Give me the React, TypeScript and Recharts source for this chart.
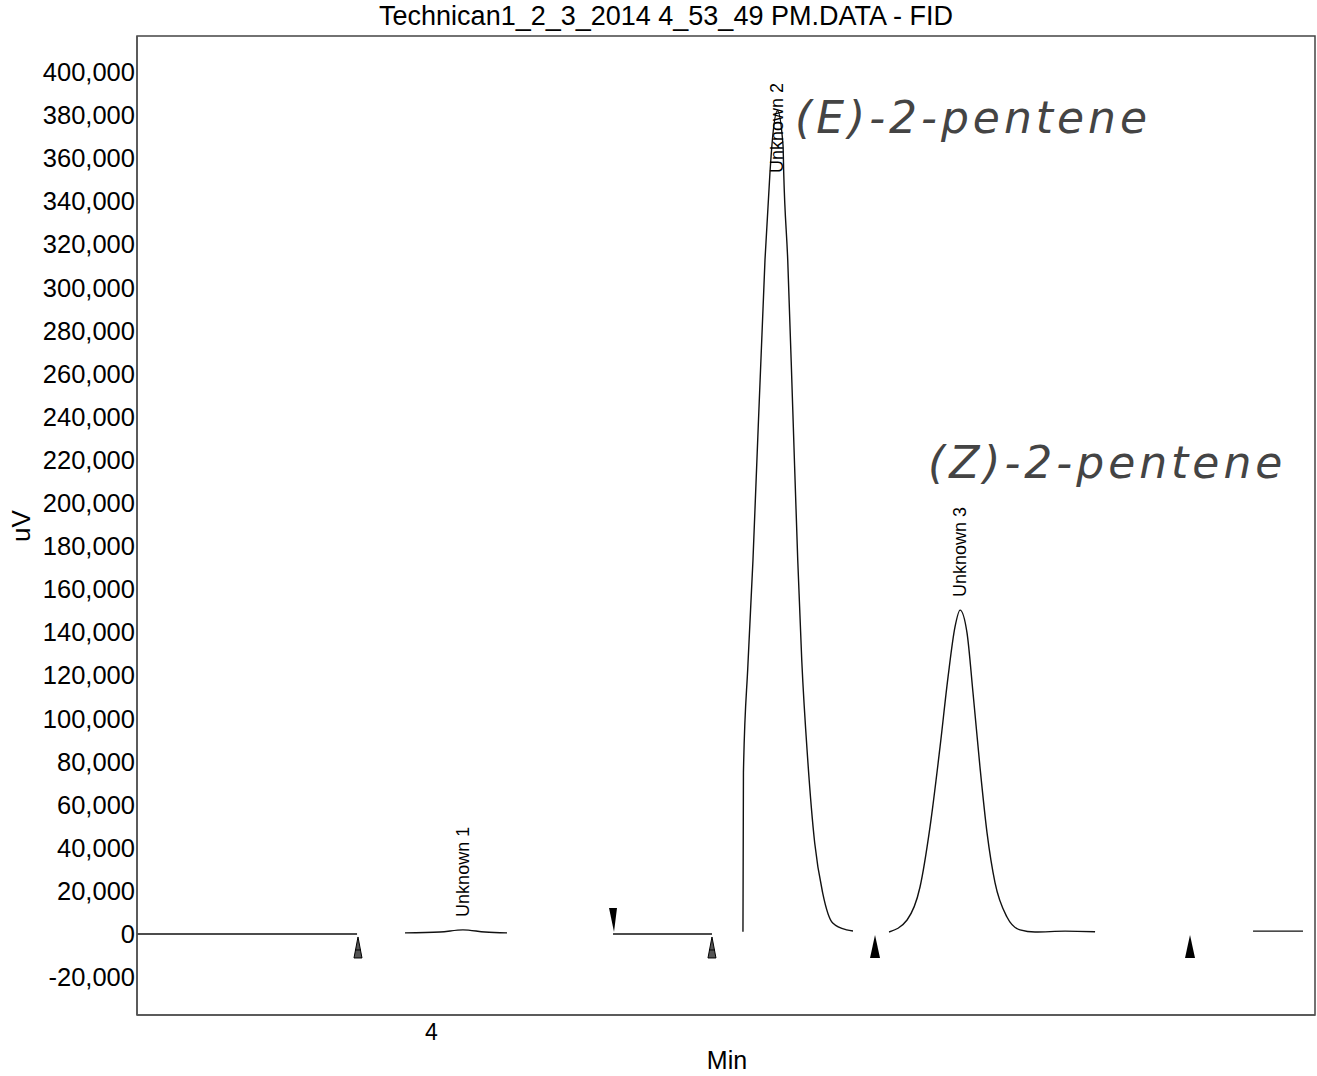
import React from 'react';
import { LineChart, Line, XAxis, YAxis, Scatter, ReferenceArea } from 'recharts';

// Retention time (min) and detector signal (uV) for each drawn trace segment
const baselineATime = [3.75, 3.9368];
const baselineASignal = [0, 0];

const unknown1Time = [3.9775, 4.0072, 4.0267, 4.0454, 4.0641];
const unknown1Signal = [500, 900, 1900, 900, 500];

const baselineBTime = [4.1541, 4.2381];
const baselineBSignal = [0, 0];

const unknown2Time = [4.2644, 4.2648, 4.2686, 4.2729, 4.2831, 4.2873, 4.289, 4.2937, 4.2984, 4.299, 4.3024, 4.3067, 4.3109, 4.3143, 4.3194, 4.3253, 4.3321, 4.3406, 4.3525, 4.3578];
const unknown2Signal = [1000, 75000, 124800, 173500, 312800, 353100, 366100, 382000, 366100, 353100, 312800, 243000, 173500, 127100, 80700, 42200, 19000, 5100, 1900, 1400];

const unknown3Time = [4.3884, 4.4037, 4.4147, 4.4232, 4.4317, 4.4385, 4.4444, 4.4487, 4.4546, 4.4597, 4.4656, 4.4716, 4.4784, 4.4885, 4.4996, 4.5123, 4.5378, 4.5633];
const unknown3Signal = [900, 6500, 21800, 49700, 86800, 119300, 142500, 150300, 139700, 111800, 77500, 46900, 23700, 7900, 1900, 900, 1300, 1000];

const baselineCTime = [4.6974, 4.7398];
const baselineCSignal = [1300, 1300];

// Peak labels
const peakNames = ['Unknown 1', 'Unknown 2', 'Unknown 3'];
const peakTimes = [4.0267, 4.2937, 4.4487];
const peakSignals = [1900, 382000, 150300];

// Integration event markers
const hatchedMarkerTimes = [3.9376, 4.2381];
const solidMarkerTimes = [4.3765, 4.6439];
const downMarkerTimes = [4.1541];

// Axis
const xTicks = [4];
const yTicks = [-20000, 0, 20000, 40000, 60000, 80000, 100000, 120000, 140000, 160000, 180000, 200000, 220000, 240000, 260000, 280000, 300000, 320000, 340000, 360000, 380000, 400000];
const xDomain = [3.75, 4.75];
const yDomain = [-37600, 416700];

const title = 'Technican1_2_3_2014 4_53_49 PM.DATA - FID';
const noteE = '(E)-2-pentene';
const noteZ = '(Z)-2-pentene';

const zip = (t: number[], v: number[]) => t.map((x, i) => ({ t: x, uV: v[i] }));

const segments = [
  zip(baselineATime, baselineASignal),
  zip(unknown1Time, unknown1Signal),
  zip(baselineBTime, baselineBSignal),
  zip(unknown2Time, unknown2Signal),
  zip(unknown3Time, unknown3Signal),
  zip(baselineCTime, baselineCSignal),
];

const peakData = peakTimes.map((t, i) => ({ t, uV: peakSignals[i], name: peakNames[i] }));
const hatchedData = hatchedMarkerTimes.map((t) => ({ t, uV: 0 }));
const solidData = solidMarkerTimes.map((t) => ({ t, uV: 0 }));
const downData = downMarkerTimes.map((t) => ({ t, uV: 0 }));

const FONT = "'Liberation Sans', Arial, sans-serif";
const HAND = "'DejaVu Sans', sans-serif";

const PeakLabel = (props: any) => {
  const { cx, cy, payload } = props;
  const len = 90;
  let bottom = cy - 13;
  if (bottom - len < 83) bottom = 83 + len;
  return (
    <text
      x={cx}
      y={bottom}
      transform={`rotate(-90 ${cx} ${bottom})`}
      fontSize={18}
      fontFamily={FONT}
      textAnchor="start"
      dominantBaseline="central"
      fill="#000"
    >
      {payload.name}
    </text>
  );
};

const UpSolid = (props: any) => {
  const { cx, cy } = props;
  return <polygon points={`${cx},${cy + 1} ${cx - 5},${cy + 24} ${cx + 5},${cy + 24}`} fill="#000" />;
};

const UpHatched = (props: any) => {
  const { cx, cy } = props;
  return (
    <g>
      <polygon points={`${cx},${cy + 3} ${cx - 4},${cy + 24} ${cx + 4},${cy + 24}`} fill="#555" stroke="#000" strokeWidth={1} />
      <line x1={cx - 3} y1={cy + 16} x2={cx + 3} y2={cy + 16} stroke="#000" strokeWidth={1} />
    </g>
  );
};

const DownSolid = (props: any) => {
  const { cx, cy } = props;
  return <polygon points={`${cx - 4},${cy - 26} ${cx + 4},${cy - 26} ${cx + 1},${cy - 2}`} fill="#000" />;
};

const YLabel = () => (
  <text
    x={21}
    y={526}
    transform="rotate(-90 21 526)"
    textAnchor="middle"
    dominantBaseline="central"
    fontSize={26}
    fontFamily={FONT}
    fill="#000"
  >
    uV
  </text>
);

const XLabel = () => (
  <text x={727} y={1069} textAnchor="middle" fontSize={25} fontFamily={FONT} fill="#000">
    Min
  </text>
);

const handStyle: React.CSSProperties = {
  position: 'absolute',
  fontFamily: HAND,
  fontStyle: 'italic',
  fontWeight: 200,
  fontSize: 44,
  lineHeight: '44px',
  color: '#444',
  whiteSpace: 'nowrap',
};

export default function App() {
  return (
    <div style={{ position: 'absolute', left: 0, top: 0, width: 1317, height: 1076, background: '#fff' }}>
      <LineChart width={1317} height={1076} margin={{ top: 36, right: 2, bottom: 1, left: 7 }}>
        <XAxis
          dataKey="t"
          type="number"
          domain={xDomain}
          ticks={xTicks}
          allowDataOverflow
          height={60}
          tickLine={false}
          tickSize={0}
          tickMargin={9}
          axisLine={{ stroke: '#555', strokeWidth: 1.5 }}
          tick={{ fontSize: 23, fontFamily: FONT, fill: '#000' }}
          label={<XLabel />}
        />
        <YAxis
          dataKey="uV"
          type="number"
          domain={yDomain}
          ticks={yTicks}
          allowDataOverflow
          width={130}
          tickLine={false}
          tickSize={0}
          tickMargin={2}
          interval={0}
          axisLine={{ stroke: '#555', strokeWidth: 1.5 }}
          tick={{ fontSize: 25.5, fontFamily: FONT, fill: '#000' }}
          tickFormatter={(v: number) => v.toLocaleString('en-US')}
          label={<YLabel />}
        />
        <ReferenceArea
          x1={xDomain[0]}
          x2={xDomain[1]}
          y1={yDomain[0]}
          y2={yDomain[1]}
          fill="none"
          stroke="#444"
          strokeWidth={1.5}
          ifOverflow="visible"
        />
        {segments.map((seg, i) => (
          <Line
            key={i}
            data={seg}
            dataKey="uV"
            type="monotone"
            stroke="#111"
            strokeWidth={1.4}
            dot={false}
            activeDot={false}
            isAnimationActive={false}
          />
        ))}
        <Scatter data={hatchedData} dataKey="uV" shape={UpHatched} isAnimationActive={false} />
        <Scatter data={solidData} dataKey="uV" shape={UpSolid} isAnimationActive={false} />
        <Scatter data={downData} dataKey="uV" shape={DownSolid} isAnimationActive={false} />
        <Scatter data={peakData} dataKey="uV" shape={PeakLabel} isAnimationActive={false} />
      </LineChart>
      <div
        style={{
          position: 'absolute',
          left: 0,
          width: 1332,
          top: 3,
          textAlign: 'center',
          fontFamily: FONT,
          fontSize: 27,
          lineHeight: '27px',
          color: '#000',
          whiteSpace: 'nowrap',
        }}
      >
        {title}
      </div>
      <div style={{ ...handStyle, left: 795, top: 96, letterSpacing: 4 }}>{noteE}</div>
      <div style={{ ...handStyle, left: 928, top: 441, letterSpacing: 4 }}>{noteZ}</div>
    </div>
  );
}
